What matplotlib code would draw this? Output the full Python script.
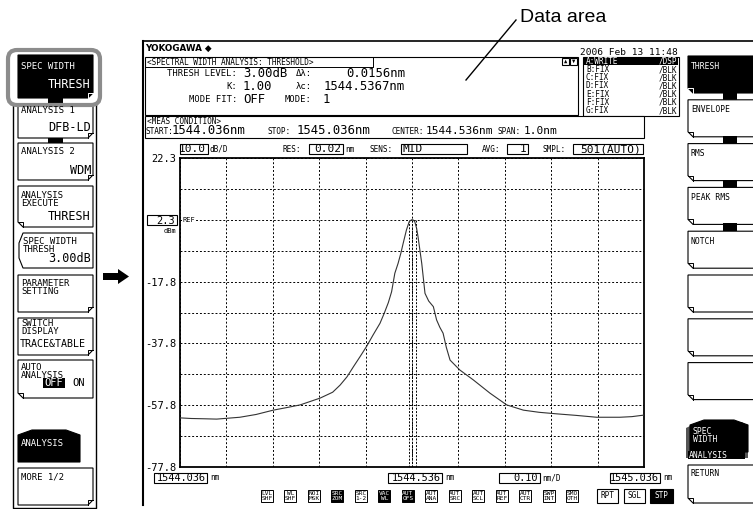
import matplotlib
matplotlib.use('Agg')
import matplotlib.pyplot as plt
from matplotlib.patches import Rectangle, Polygon, FancyBboxPatch

MONO = 'DejaVu Sans Mono'

# spectrum trace (nm, dBm)
wavelength = [1544.036, 1544.060, 1544.090, 1544.115, 1544.140, 1544.165, 1544.200,
              1544.237, 1544.265, 1544.295, 1544.338, 1544.365, 1544.381, 1544.396,
              1544.410, 1544.424, 1544.438, 1544.452, 1544.467, 1544.476, 1544.485,
              1544.492, 1544.499, 1544.506, 1544.512, 1544.517, 1544.524, 1544.530,
              1544.535, 1544.538, 1544.542, 1544.546, 1544.549, 1544.553, 1544.557,
              1544.564, 1544.572, 1544.582, 1544.589, 1544.596, 1544.603, 1544.610,
              1544.618, 1544.639, 1544.668, 1544.704, 1544.740, 1544.776, 1544.810,
              1544.848, 1544.890, 1544.934, 1544.984, 1545.010, 1545.036]
level = [-61.8, -62.0, -62.1, -62.2, -61.9, -61.6, -60.7,
         -59.3, -58.5, -57.6, -55.4, -53.5, -51.2, -48.5,
         -45.2, -42.0, -38.7, -35.0, -31.2, -28.0, -24.5,
         -21.0, -15.0, -11.8, -8.5, -5.3, -1.0, 1.7,
         2.3, 2.3, 1.7, -0.5, -3.2, -7.5, -11.8,
         -21.5, -24.0, -25.8, -30.1, -32.5, -34.4, -39.0,
         -43.1, -46.3, -49.5, -53.8, -57.6, -59.3, -60.0,
         -60.5, -61.0, -61.6, -61.6, -61.4, -60.9]

start_nm = 1544.036
stop_nm = 1545.036
top_level = 22.3
ref_level = 2.3
db_per_div = 10.0
lambda_c = 1544.5367
delta_lambda = 0.0156

y_tick_text = ['22.3', '', '', '', '-17.8', '', '-37.8', '', '-57.8', '', '-77.8']
x_box_text = ['1544.036', '1544.536', '1545.036']

trace_names = ['A:WRITE', 'B:FIX', 'C:FIX', 'D:FIX', 'E:FIX', 'F:FIX', 'G:FIX']
trace_modes = ['/DSP', '/BLK', '/BLK', '/BLK', '/BLK', '/BLK', '/BLK']

right_keys = ['THRESH', 'ENVELOPE', 'RMS', 'PEAK RMS', 'NOTCH', '', '', '']
bottom_keys = [('LVL', 'SHF'), ('WL', 'SHF'), ('NOI', 'MSK'), ('SRC', 'ZOM'),
               ('SRC', '1-2'), ('VAC', 'WL'), ('AUT', 'OFS'), ('AUT', 'ANA'),
               ('AUT', 'SRC'), ('AUT', 'SCL'), ('AUT', 'REF'), ('AUT', 'CTR'),
               ('SWP', 'INT'), ('SMO', 'OTH')]
bottom_dark = [3, 5, 6]

W, H = 753, 509
fig = plt.figure(figsize=(W / 100, H / 100), dpi=100)
ov = fig.add_axes([0, 0, 1, 1])
ov.set_xlim(0, W)
ov.set_ylim(H, 0)
ov.axis('off')


def rect(x0, y0, x1, y1, fc='white', ec='black', lw=0.8, z=2):
    ov.add_patch(Rectangle((x0, y0), x1 - x0, y1 - y0, fc=fc, ec=ec, lw=lw, zorder=z))


def poly(pts, fc='white', ec='black', lw=0.8, z=2):
    ov.add_patch(Polygon(pts, closed=True, fc=fc, ec=ec, lw=lw, zorder=z))


def txt(x, y, s, size=6, ha='left', color='black', family=MONO, weight='normal'):
    ov.text(x, y, s, fontsize=size, ha=ha, va='center', color=color,
            family=family, fontweight=weight, zorder=6)


def softkey(x0, y0, x1, y1, dark=False, fold='br'):
    f = 5
    if fold == 'br':
        pts = [(x0, y0), (x1, y0), (x1, y1 - f), (x1 - f, y1), (x0, y1)]
        fl = [(x1 - f, y1), (x1 - f, y1 - f), (x1, y1 - f)]
    else:
        pts = [(x0, y0), (x1, y0), (x1, y1), (x0 + f, y1), (x0, y1 - f)]
        fl = [(x0 + f, y1), (x0 + f, y1 - f), (x0, y1 - f)]
    poly(pts, fc='black' if dark else 'white')
    ov.plot([p[0] for p in fl], [p[1] for p in fl], color='white' if dark else 'black',
            lw=0.7, zorder=3)


def tab(x0, y0, x1, y1):
    poly([(x0, y1), (x0, y0 + 5), (x0 + 14, y0), (x1 - 14, y0), (x1, y0 + 5), (x1, y1)],
         fc='black')


# ---- "Data area" callout
txt(520, 17, 'Data area', size=14, family='Liberation Sans')
ov.plot([516, 466], [20, 80], color='black', lw=1.0, zorder=6)

# ---- left soft-key column
ov.plot([13, 13, 96, 96], [104, 508, 508, 104], color='black', lw=1.0, zorder=1)
softkey(18, 55, 93, 98, dark=True)
rect(48, 95, 63, 104, fc='black', ec='black', lw=0)
softkey(18, 104, 93, 138)
rect(48, 138, 63, 143, fc='black', ec='black', lw=0)
softkey(18, 143, 93, 180)
softkey(18, 186, 93, 227, fold='none')
poly([(23, 233), (93, 233), (93, 268), (23, 268), (19, 258), (19, 243)])
softkey(18, 275, 93, 312)
softkey(18, 318, 93, 355)
softkey(18, 360, 93, 398, fold='none')
tab(18, 430, 80, 462)
softkey(18, 468, 93, 505)
ov.add_patch(FancyBboxPatch((8, 50), 92, 55, boxstyle='round,pad=0,rounding_size=9',
                            fc='none', ec='#8c8c8c', lw=3.0, zorder=4))

txt(21, 66, 'SPEC WIDTH', 6.5, color='white')
txt(91, 84, 'THRESH', 8.5, ha='right', color='white')
txt(21, 110, 'ANALYSIS 1', 6.5)
txt(91, 127, 'DFB-LD', 8.5, ha='right')
txt(21, 152, 'ANALYSIS 2', 6.5)
txt(91, 171, 'WDM', 8.5, ha='right')
txt(21, 195, 'ANALYSIS', 6.5)
txt(21, 203, 'EXECUTE', 6.5)
txt(91, 217, 'THRESH', 8.5, ha='right')
txt(23, 241, 'SPEC WIDTH', 6.5)
txt(23, 249, 'THRESH', 6.5)
txt(91, 259, '3.00dB', 8.5, ha='right')
txt(21, 283, 'PARAMETER', 6.5)
txt(21, 291, 'SETTING', 6.5)
txt(21, 324, 'SWITCH', 6.5)
txt(21, 332, 'DISPLAY', 6.5)
txt(20, 344, 'TRACE&TABLE', 7.2)
txt(21, 367, 'AUTO', 6.5)
txt(21, 375, 'ANALYSIS', 6.5)
rect(43, 378, 65, 388, fc='black', ec='black', lw=0)
txt(44, 383, 'OFF', 7.5, color='white')
txt(72, 383, 'ON', 7.5)
txt(21, 443, 'ANALYSIS', 6.5, color='white')
txt(21, 477, 'MORE 1/2', 6.5)

# arrow pointing at the screen
poly([(103, 273), (118, 273), (118, 269), (129, 276.5), (118, 284), (118, 280), (103, 280)],
     fc='black', lw=0)

# ---- screen frame
ov.plot([143.5, 143.5], [41, 505], color='black', lw=1.5, zorder=3)
ov.plot([143, 753], [41, 41], color='black', lw=1.2, zorder=3)
txt(145, 48, 'YOKOGAWA \u25c6', 6.3, family='DejaVu Sans', weight='bold')
txt(678, 52, '2006 Feb 13 11:48', 6.8, ha='right')

# analysis result box
rect(145, 57, 578, 115)
txt(147, 62, '<SPECTRAL WIDTH ANALYSIS: THRESHOLD>', 5.6)
ov.plot([145, 373, 373], [67, 67, 57], color='black', lw=0.7, zorder=3)
rect(562, 58, 569, 65)
rect(570, 58, 577, 65)
txt(565.5, 61.5, '\u25b2', 4, ha='center')
txt(573.5, 61.5, '\u25bc', 4, ha='center')
txt(237, 73, 'THRESH LEVEL:', 6.4, ha='right')
txt(237, 86, 'K:', 6.4, ha='right')
txt(237, 99, 'MODE FIT:', 6.4, ha='right')
txt(243, 73, '3.00dB', 8.8)
txt(243, 86, '1.00', 8.8)
txt(243, 99, 'OFF', 8.8)
txt(312, 73, '\u0394\u03bb:', 6.4, ha='right')
txt(312, 86, '\u03bbc:', 6.4, ha='right')
txt(312, 99, 'MODE:', 6.4, ha='right')
txt(405, 73, f'{delta_lambda:.4f}nm', 8.8, ha='right')
txt(405, 86, f'{lambda_c:.4f}nm', 8.8, ha='right')
txt(323, 99, '1', 8.8)

# trace list
rect(583, 57, 679, 116)
rect(584, 57.5, 678, 65, fc='black', ec='black', lw=0)
for i, (name, mode) in enumerate(zip(trace_names, trace_modes)):
    c = 'white' if i == 0 else 'black'
    txt(586, 61.3 + 8.2 * i, name, 5.6, color=c)
    txt(677, 61.3 + 8.2 * i, mode, 5.6, ha='right', color=c)

# measurement condition
rect(145, 116, 644, 138)
txt(147, 121, '<MEAS CONDITION>', 5.6)
txt(146, 132, 'START:', 5.6)
txt(172, 131, f'{start_nm:.3f}nm', 8.8)
txt(268, 132, 'STOP:', 5.6)
txt(297, 131, f'{stop_nm:.3f}nm', 8.8)
txt(392, 132, 'CENTER:', 5.6)
txt(426, 131, f'{(start_nm + stop_nm) / 2:.3f}nm', 8.0)
txt(498, 132, 'SPAN:', 5.6)
txt(524, 131, f'{stop_nm - start_nm:.1f}nm', 8.0)

# settings row above the grid
row_y = 149
rect(180, 144, 208, 154)
txt(206, row_y, f'{db_per_div:.1f}', 8, ha='right')
txt(210, row_y, 'dB/D', 5.6)
txt(283, row_y, 'RES:', 5.6)
rect(309, 144, 343, 154)
txt(341, row_y, '0.02', 8, ha='right')
txt(345, row_y, 'nm', 5.6)
txt(370, row_y, 'SENS:', 5.6)
rect(401, 144, 467, 154)
txt(403, row_y, 'MID', 8)
txt(482, row_y, 'AVG:', 5.6)
rect(507, 144, 528, 154)
txt(526, row_y, '1', 8, ha='right')
txt(543, row_y, 'SMPL:', 5.6)
rect(573, 144, 643, 154)
txt(641, row_y, '501(AUTO)', 8, ha='right')

# reference level box
rect(147, 215, 177, 225)
txt(175, 220.5, f'{ref_level:.1f}', 7.5, ha='right')
txt(176, 231, 'dBm', 5, ha='right')

# wavelength boxes under the grid
for (x0, x1), s in zip([(154, 207), (388, 442), (610, 660)], x_box_text):
    rect(x0, 473, x1, 483)
    txt(x1 - 1.5, 478, s, 7.4, ha='right')
    txt(x1 + 3, 478, 'nm', 5.6)
rect(499, 473, 540, 483)
txt(538, 478, '0.10', 7.4, ha='right')
txt(542, 478, 'nm/D', 5.6)

# bottom function keys
for i, (a, b) in enumerate(bottom_keys):
    x0 = 261 + 23.5 * i
    dark = i in bottom_dark
    rect(x0, 490, x0 + 12, 502, fc='black' if dark else 'white', lw=0.7)
    c = 'white' if dark else 'black'
    txt(x0 + 6, 493.5, a, 4.4, ha='center', color=c)
    txt(x0 + 6, 499, b, 4.4, ha='center', color=c)
for (x0, x1), s in zip([(597, 618), (624, 645), (650, 673)], ['RPT', 'SGL', 'STP']):
    dark = s == 'STP'
    rect(x0, 489, x1, 503, fc='black' if dark else 'white', lw=0.8)
    txt((x0 + x1) / 2, 496, s, 5.6, ha='center', color='white' if dark else 'black')

# ---- right soft-key column
for i, s in enumerate(right_keys):
    y0 = 56 + 43.8 * i
    softkey(688, y0, 756, y0 + 37, dark=(i == 0), fold='bl')
    txt(691, y0 + 10, s, 5.8, color='white' if i == 0 else 'black')
    if i < 4:
        rect(723, y0 + 36, 737, y0 + 44, fc='black', ec='black', lw=0)
poly([(686, 458), (686, 428), (698, 422), (742, 422), (748, 427), (748, 458)],
     fc='#555555', lw=0)
tab(690, 420, 748, 452)
rect(688, 451, 745, 459, fc='black', ec='black', lw=0)
txt(693, 431, 'SPEC', 5.8, color='white')
txt(693, 439, 'WIDTH', 5.8, color='white')
txt(689, 455, 'ANALYSIS', 5.8, color='white')
softkey(688, 465, 756, 503, fold='bl')
txt(691, 474, 'RETURN', 5.8)

# ---- spectrum grid
ax = fig.add_axes([180 / W, (H - 467) / H, 464 / W, 309 / H])
ax.set_facecolor('none')
bottom_level = top_level - 10 * db_per_div
ax.plot(wavelength, level, color='#333333', lw=0.8, zorder=3)
for wl in [lambda_c - delta_lambda / 2, lambda_c, lambda_c + delta_lambda / 2]:
    ax.plot([wl, wl], [bottom_level, ref_level], color='black', lw=0.7,
            ls=(0, (2, 1.5)), zorder=2)
ax.set_xlim(start_nm, stop_nm)
ax.set_ylim(bottom_level, top_level)
ax.set_xticks([start_nm + 0.1 * i for i in range(11)])
ax.set_xticklabels([])
ax.set_yticks([top_level - db_per_div * i for i in range(11)])
ax.set_yticklabels(y_tick_text, fontfamily=MONO, fontsize=7.5)
ax.tick_params(length=0, pad=2.5)
ax.grid(True, color='black', lw=0.7, ls=(0, (2, 2)))
for sp in ax.spines.values():
    sp.set_linewidth(1.3)
ax.text(start_nm + 0.006, ref_level, 'REF', fontsize=5, family=MONO, va='center',
        bbox=dict(fc='white', ec='none', pad=0.5), zorder=4)

fig.savefig('out.png', dpi=100)
